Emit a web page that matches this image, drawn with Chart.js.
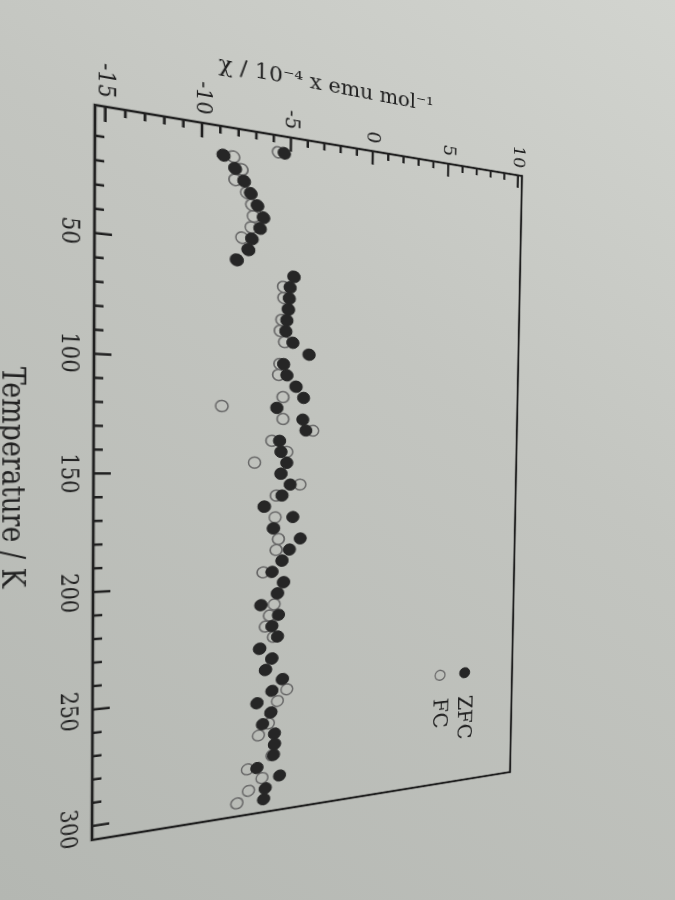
<!DOCTYPE html>
<html lang="en">
  <head>
    <meta charset="UTF-8" />
    <meta name="viewport" content="width=device-width, initial-scale=1.0" />
    <title>ZFC / FC susceptibility</title>
    <script src="https://cdn.jsdelivr.net/npm/chart.js"></script>
    <style>
      html,
      body {
        margin: 0;
        width: 675px;
        height: 900px;
        overflow: hidden;
      }
      body {
        position: relative;
        background: linear-gradient(215deg, #d2d4cf 0%, #c3c5c0 40%, #b4b7b2 100%);
      }
      #myChart {
        position: absolute;
        left: 0;
        top: 0;
        transform-origin: 0 0;
      }
    </style>
  </head>
  <body>
    <canvas id="myChart" width="845" height="560"></canvas>

    <script>
      // temperature (K) of each measurement
      const temps = [
        5, 10, 15, 20, 25, 30, 35, 40, 45, 50,
        55, 60, 65, 70, 75, 80, 85, 90, 95, 100,
        105, 110, 115, 120, 125, 130, 135, 140, 145, 150,
        155, 160, 165, 170, 175, 180, 185, 190, 195, 200,
        205, 210, 215, 220, 225, 230, 235, 240, 245, 250,
        255, 260, 265, 270, 275, 280, 285, 290, 295, 300,
      ];
      // chi in 10^-4 emu/mol, zero field cooled
      const zfc = [
        -5.38, -8.82, -8.17, -7.66, -7.28, -6.89, -6.54, -6.73, -7.19, -7.38,
        -8.02, -4.72, -4.95, -4.99, -5.03, -5.12, -5.17, -4.75, -3.76, -5.28,
        -5.08, -4.52, -4.07, -5.65, -4.1, -3.91, -5.47, -5.38, -5.03, -5.36,
        -4.81, -5.29, -6.33, -4.63, -5.78, -4.17, -4.81, -5.25, -5.83, -5.14,
        -5.49, -6.46, -5.42, -5.8, -5.46, -6.51, -5.78, -6.15, -5.14, -5.76,
        -6.63, -5.81, -6.29, -5.58, -5.57, -5.62, -6.59, -5.25, -6.09, -6.18,
      ];
      // field cooled
      const fc = [
        -5.72, -8.27, -7.8, -8.16, -7.5, -7.21, -7.11, -7.23, -7.75, -7.4,
        -8.05, -4.75, -5.34, -5.31, -5.05, -5.41, -5.5, -5.24, -3.8, -5.5,
        -5.57, -4.55, -5.3, -8.79, -5.28, -3.48, -5.92, -5.03, -6.91, -5.38,
        -4.22, -5.63, -6.3, -5.68, -5.75, -5.47, -5.6, -5.25, -6.35, -5.15,
        -5.5, -5.68, -5.95, -6.18, -5.7, -6.5, -5.8, -6.15, -5.15, -4.87,
        -5.42, -5.8, -5.94, -6.52, -5.57, -5.72, -7.14, -6.29, -7.07, -7.73,
      ];
      const tempTicks = [50, 100, 150, 200, 250, 300];
      const chiTicks = [-15, -10, -5, 0, 5, 10];

      const ink = "#202020";
      Chart.defaults.font.family = "'DejaVu Serif', 'Liberation Serif', serif";
      Chart.defaults.color = ink;

      // where the printed page sits in the photo (plot box corners)
      const photoCorners = [
        [95, 105],
        [522, 176],
        [510, 772],
        [92, 840],
      ];

      // inward ticks, box frame and the little legend inside the plot
      const paperAxes = {
        id: "paperAxes",
        afterDraw(chart) {
          const { ctx, chartArea: a } = chart;
          const x = chart.scales.x;
          const y = chart.scales.y;
          ctx.save();
          ctx.strokeStyle = ink;
          ctx.lineWidth = 2.5;
          ctx.strokeRect(a.left, a.top, a.right - a.left, a.bottom - a.top);
          ctx.beginPath();
          for (let t = 10; t <= 300; t += 10) {
            const px = x.getPixelForValue(t);
            const len = t % 50 === 0 ? 15 : 8;
            ctx.moveTo(px, a.bottom);
            ctx.lineTo(px, a.bottom - len);
          }
          for (let c = -15; c <= 10; c++) {
            const py = y.getPixelForValue(c);
            const len = c % 5 === 0 ? 15 : 8;
            ctx.moveTo(a.left, py);
            ctx.lineTo(a.left + len, py);
          }
          ctx.stroke();

          const lx = x.getPixelForValue(251);
          ctx.font = "25px 'DejaVu Serif', serif";
          ctx.textBaseline = "middle";
          chart.data.datasets.forEach((ds, i) => {
            const ly = y.getPixelForValue(6.8 - i * 1.75);
            ctx.beginPath();
            ctx.arc(lx, ly, ds.pointRadius, 0, Math.PI * 2);
            ctx.fillStyle = ds.backgroundColor;
            ctx.fill();
            ctx.lineWidth = ds.borderWidth;
            ctx.strokeStyle = ds.borderColor;
            ctx.stroke();
            ctx.fillStyle = ink;
            ctx.fillText(ds.label, lx + 28, ly + 1);
          });
          ctx.restore();
        },
      };

      function solveHomography(src, dst) {
        const A = [];
        const b = [];
        for (let i = 0; i < 4; i++) {
          const [sx, sy] = src[i];
          const [dx, dy] = dst[i];
          A.push([sx, sy, 1, 0, 0, 0, -sx * dx, -sy * dx]);
          b.push(dx);
          A.push([0, 0, 0, sx, sy, 1, -sx * dy, -sy * dy]);
          b.push(dy);
        }
        for (let c = 0; c < 8; c++) {
          let p = c;
          for (let r = c + 1; r < 8; r++) {
            if (Math.abs(A[r][c]) > Math.abs(A[p][c])) p = r;
          }
          [A[c], A[p]] = [A[p], A[c]];
          [b[c], b[p]] = [b[p], b[c]];
          for (let r = 0; r < 8; r++) {
            if (r === c) continue;
            const f = A[r][c] / A[c][c];
            for (let k = c; k < 8; k++) A[r][k] -= f * A[c][k];
            b[r] -= f * b[c];
          }
        }
        return b.map((v, i) => v / A[i][i]);
      }

      const canvas = document.getElementById("myChart");
      const chart = new Chart(canvas.getContext("2d"), {
        type: "scatter",
        data: {
          datasets: [
            {
              label: "ZFC",
              data: temps.map((t, i) => ({ x: t, y: zfc[i] })),
              pointRadius: 6.3,
              backgroundColor: "#262626",
              borderColor: "#262626",
              borderWidth: 1,
            },
            {
              label: "FC",
              data: temps.map((t, i) => ({ x: t, y: fc[i] })),
              pointRadius: 6,
              backgroundColor: "rgba(0, 0, 0, 0)",
              borderColor: "#686868",
              borderWidth: 1.6,
            },
          ],
        },
        options: {
          responsive: false,
          animation: false,
          events: [],
          layout: { padding: { top: 25, right: 25, bottom: 5, left: 5 } },
          plugins: {
            legend: { display: false },
            tooltip: { enabled: false },
          },
          scales: {
            x: {
              type: "linear",
              min: -2.5,
              max: 306,
              grid: { display: false, drawTicks: false },
              border: { display: false },
              afterBuildTicks: (s) => {
                s.ticks = tempTicks.map((v) => ({ value: v }));
              },
              afterFit: (s) => {
                s.height = 84;
              },
              ticks: { padding: 9, maxRotation: 0, autoSkip: false, font: { size: 21 } },
              title: {
                display: true,
                text: "Temperature / K",
                font: { size: 26 },
                padding: 0,
              },
            },
            y: {
              min: -15.5,
              max: 10.3,
              grid: { display: false, drawTicks: false },
              border: { display: false },
              afterBuildTicks: (s) => {
                s.ticks = chiTicks.map((v) => ({ value: v }));
              },
              afterFit: (s) => {
                s.width = 76;
              },
              ticks: { padding: 9, autoSkip: false, font: { size: 21 } },
              title: {
                display: true,
                text: "χ / 10⁻⁴ x emu mol⁻¹",
                font: { size: 22 },
                padding: 0,
              },
            },
          },
        },
        plugins: [paperAxes],
      });

      // lay the flat chart onto the photographed page
      const a = chart.chartArea;
      const h = solveHomography(
        [
          [a.left, a.bottom],
          [a.left, a.top],
          [a.right, a.top],
          [a.right, a.bottom],
        ],
        photoCorners
      );
      canvas.style.transform =
        "matrix3d(" +
        [h[0], h[3], 0, h[6], h[1], h[4], 0, h[7], 0, 0, 1, 0, h[2], h[5], 0, 1].join(",") +
        ")";
    </script>
  </body>
</html>
